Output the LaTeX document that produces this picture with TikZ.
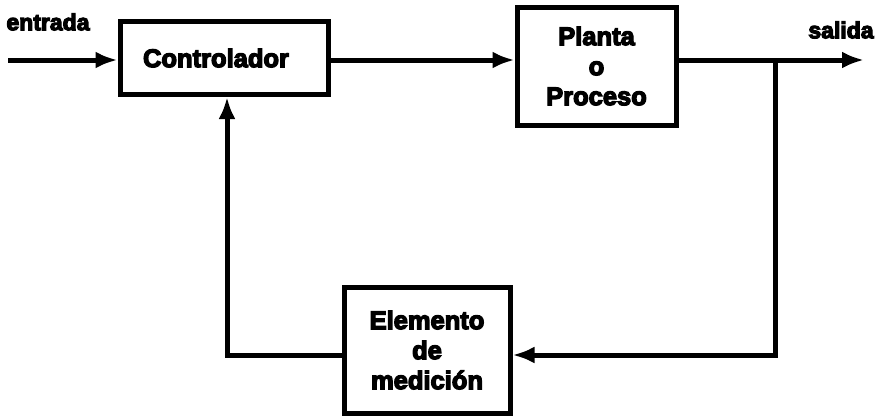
\documentclass[tikz,border=0pt]{standalone}
\usepackage{fontspec}
\newfontfamily\heavy[UprightFont=*-Bold,FakeBold=5]{Liberation Sans}
\usetikzlibrary{arrows.meta}
\begin{document}
\begin{tikzpicture}[x=1pt,y=-1pt,
  blk/.style={draw,line width=5pt,align=center,font=\heavy\bfseries\fontsize{25.5}{30}\selectfont,inner sep=0pt},
  lbl/.style={font=\heavy\bfseries\fontsize{23}{26}\selectfont,inner sep=0pt},
  conn/.style={line width=5pt},
  arr/.style={conn,-{Latex[length=22pt,width=17pt]}}]
\useasboundingbox (0,0) rectangle (879,416);
\node[blk,minimum width=208pt,minimum height=73pt] (ctrl) at (224,58) {Controlador\hspace{16pt}};
\node[blk,minimum width=159pt,minimum height=118pt] (plant) at (596.5,66) {Planta\\o\\Proceso};
\node[blk,minimum width=166pt,minimum height=126pt] (elem) at (427,350) {Elemento\\de\\medición};
\coordinate (in) at (8,60);
\coordinate (out) at (864,60);
\coordinate (br) at (775,60);
\coordinate (fb) at (775,355);
\coordinate (lc) at (227,355);
\node[lbl] (tin) at (48,22) {entrada};
\node[lbl] (tout) at (841,30) {salida};
\draw[arr] (in) -- (in -| ctrl.west);
\draw[arr] (ctrl.east |- in) -- (plant.west |- in);
\draw[arr] (plant.east |- in) -- (out);
\draw[arr,line join=miter] (br) -- (fb) -- (elem.east |- fb);
\draw[arr,line join=miter] (elem.west |- fb) -- (lc) -- (lc |- ctrl.south);
\end{tikzpicture}
\end{document}
